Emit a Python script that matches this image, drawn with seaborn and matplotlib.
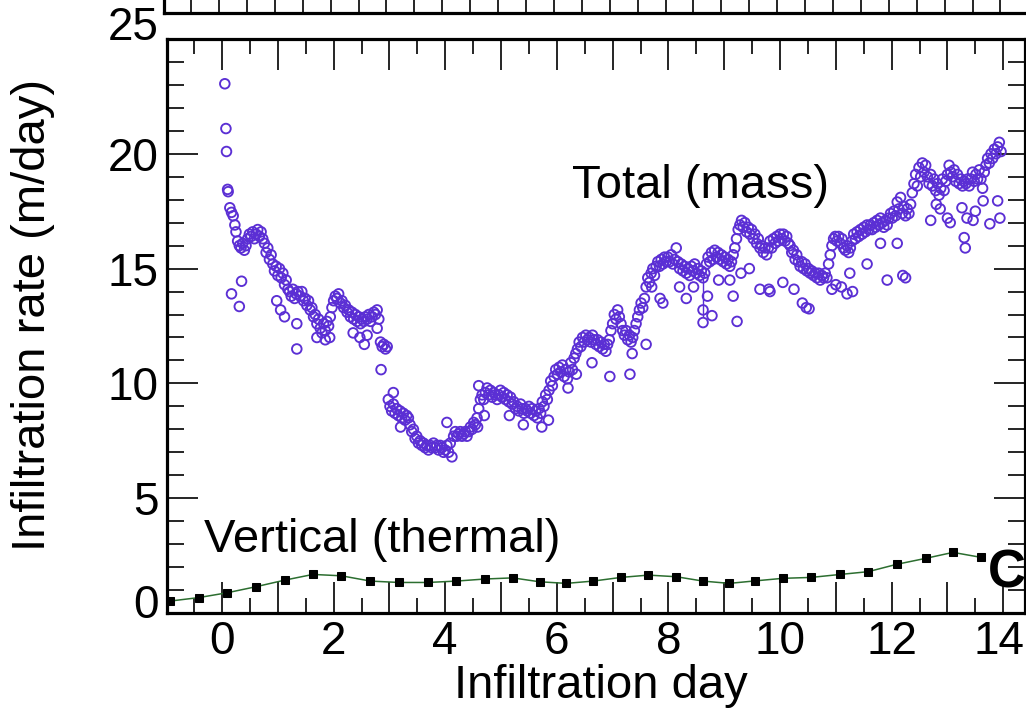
import matplotlib
matplotlib.use("Agg")
import matplotlib.pyplot as plt
from matplotlib.ticker import MultipleLocator, FuncFormatter
from matplotlib.transforms import ScaledTranslation
import seaborn as sns
import pandas as pd

# Total infiltration rate from the mass balance (m/day), main band
total_day = [
    0.05, 0.07, 0.08, 0.10, 0.11, 0.14, 0.17, 0.20, 0.23, 0.25, 0.28, 0.31, 0.34, 0.37, 0.40, 0.43, 0.46,
    0.49, 0.52, 0.55, 0.58, 0.61, 0.64, 0.67, 0.70, 0.73, 0.76, 0.79, 0.82, 0.85, 0.88, 0.91, 0.94, 0.97,
    1.00, 1.03, 1.06, 1.09, 1.12, 1.15, 1.18, 1.21, 1.24, 1.27, 1.30, 1.33, 1.36, 1.40, 1.43, 1.46, 1.49,
    1.52, 1.55, 1.58, 1.61, 1.64, 1.67, 1.70, 1.73, 1.76, 1.79, 1.82, 1.85, 1.88, 1.91, 1.94, 1.97,
    2.00, 2.03, 2.06, 2.09, 2.12, 2.15, 2.18, 2.21, 2.24, 2.27, 2.30, 2.33, 2.36, 2.39, 2.42, 2.45, 2.48,
    2.51, 2.54, 2.57, 2.60, 2.63, 2.66, 2.69, 2.72, 2.75, 2.78, 2.81, 2.84, 2.87, 2.90, 2.93, 2.96,
    2.98, 3.01, 3.04, 3.07, 3.10, 3.13, 3.16, 3.19, 3.22, 3.25, 3.28, 3.31, 3.34, 3.37, 3.40, 3.43, 3.46,
    3.49, 3.52, 3.55, 3.58, 3.61, 3.64, 3.67, 3.70, 3.73, 3.76, 3.79, 3.82, 3.85, 3.88, 3.91, 3.94, 3.97,
    4.00, 4.03, 4.06, 4.09, 4.12, 4.15, 4.18, 4.21, 4.24, 4.27, 4.30, 4.33, 4.36, 4.39, 4.42, 4.45, 4.48,
    4.51, 4.54, 4.57, 4.60, 4.63, 4.66, 4.69, 4.72, 4.75, 4.78, 4.81, 4.84, 4.87, 4.90, 4.93, 4.96,
    4.99, 5.02, 5.05, 5.08, 5.11, 5.14, 5.17, 5.20, 5.23, 5.26, 5.29, 5.32, 5.35, 5.38, 5.41, 5.44, 5.47,
    5.50, 5.53, 5.56, 5.59, 5.62, 5.65, 5.68, 5.71, 5.74, 5.77, 5.80, 5.83, 5.86, 5.89, 5.92, 5.95, 5.98,
    6.01, 6.04, 6.07, 6.10, 6.13, 6.16, 6.19, 6.22, 6.25, 6.28, 6.31, 6.34, 6.37, 6.40, 6.43, 6.46, 6.49,
    6.52, 6.55, 6.58, 6.61, 6.64, 6.67, 6.70, 6.73, 6.76, 6.79, 6.82, 6.85, 6.88, 6.91, 6.94, 6.97,
    7.00, 7.03, 7.06, 7.09, 7.12, 7.15, 7.18, 7.21, 7.24, 7.27, 7.30, 7.33, 7.36, 7.39, 7.42, 7.45, 7.48,
    7.51, 7.54, 7.57, 7.60, 7.63, 7.66, 7.69, 7.72, 7.75, 7.78, 7.81, 7.84, 7.87, 7.90, 7.93, 7.96,
    7.99, 8.02, 8.05, 8.08, 8.11, 8.14, 8.17, 8.20, 8.23, 8.26, 8.29, 8.32, 8.35, 8.38, 8.41, 8.44, 8.47,
    8.50, 8.53, 8.56, 8.59, 8.62, 8.65, 8.68, 8.71, 8.74, 8.77, 8.80, 8.83, 8.86, 8.89, 8.92, 8.95,
    8.98, 9.01, 9.04, 9.07, 9.10, 9.13, 9.16, 9.19, 9.22, 9.25, 9.28, 9.31, 9.34, 9.37, 9.40, 9.43, 9.46,
    9.49, 9.52, 9.55, 9.58, 9.61, 9.64, 9.67, 9.70, 9.73, 9.76, 9.79, 9.82, 9.85, 9.88, 9.91, 9.94, 9.97,
    10.00, 10.03, 10.06, 10.09, 10.12, 10.15, 10.18, 10.21, 10.24, 10.27, 10.30, 10.33, 10.36, 10.39,
    10.42, 10.45, 10.48, 10.51, 10.54, 10.57, 10.60, 10.63, 10.66, 10.69, 10.72, 10.75, 10.78, 10.81,
    10.84, 10.87, 10.90, 10.93, 10.96,
    10.99, 11.02, 11.05, 11.08, 11.11, 11.14, 11.17, 11.20, 11.23, 11.26, 11.29, 11.32, 11.35, 11.38,
    11.41, 11.44, 11.47, 11.50, 11.53, 11.56, 11.59, 11.62, 11.65, 11.68, 11.71, 11.74, 11.77, 11.80,
    11.83, 11.86, 11.89, 11.92, 11.95,
    11.98, 12.01, 12.04, 12.07, 12.10, 12.13, 12.16, 12.19, 12.22, 12.25, 12.28, 12.31, 12.34, 12.37,
    12.40, 12.43, 12.46, 12.49, 12.52, 12.55, 12.58, 12.61, 12.64, 12.67, 12.70, 12.73, 12.76, 12.79,
    12.82, 12.85, 12.88, 12.91, 12.94, 12.97,
    13.00, 13.03, 13.06, 13.09, 13.12, 13.15, 13.18, 13.21, 13.24, 13.27, 13.30, 13.33, 13.36, 13.39,
    13.42, 13.45, 13.48, 13.51, 13.54, 13.57, 13.60, 13.63, 13.66, 13.69, 13.72, 13.75, 13.78, 13.81,
    13.84, 13.87, 13.90, 13.93, 13.96,
]
total_rate = [
    23.05, 21.1, 20.1, 18.45, 18.35, 17.65, 17.45, 17.3, 16.9, 16.6, 16.2, 16.0, 15.9, 16.1, 15.8, 16.0, 16.3,
    16.5, 16.4, 16.6, 16.3, 16.5, 16.7, 16.4, 16.6, 16.3, 16.1, 15.7, 15.9, 15.4, 15.6, 15.2, 14.9, 15.1,
    14.7, 15.0, 14.6, 14.8, 14.3, 14.5, 14.1, 14.0, 13.8, 14.1, 13.7, 13.9, 14.0, 13.8, 14.0, 13.6, 13.7,
    13.4, 13.6, 13.2, 13.3, 12.9, 13.0, 12.6, 12.8, 12.4, 12.2, 12.6, 12.3, 12.7, 12.5, 12.9, 13.3,
    13.6, 13.8, 13.7, 13.9, 13.5, 13.6, 13.3, 13.4, 13.1, 13.2, 12.9, 13.1, 12.8, 13.0, 12.7, 12.9, 12.6,
    12.8, 12.7, 12.9, 12.8, 13.0, 12.7, 12.9, 13.1, 13.0, 13.2, 12.8, 11.8, 11.6, 11.7, 11.5, 11.6,
    9.3, 9.0, 8.8, 9.1, 8.7, 8.9, 8.6, 8.8, 8.5, 8.7, 8.4, 8.6, 8.5, 8.2, 7.9, 8.0, 7.6,
    7.7, 7.4, 7.5, 7.3, 7.4, 7.2, 7.3, 7.1, 7.3, 7.2, 7.4, 7.2, 7.3, 7.1, 7.3, 7.2, 7.0,
    7.1, 7.3, 7.0, 7.4, 6.8, 7.7, 7.9, 7.7, 7.8, 7.9, 7.7, 7.8, 7.9, 7.7, 7.9, 8.1, 8.0,
    8.3, 8.2, 8.5, 8.9, 9.3, 9.5, 9.3, 9.6, 9.8, 9.5, 9.7, 9.4, 9.6, 9.5, 9.3, 9.5,
    9.7, 9.4, 9.6, 9.3, 9.5, 9.2, 9.4, 9.1, 9.2, 8.9, 9.0, 8.8, 9.1, 8.9, 8.7, 8.9, 8.8,
    9.0, 8.7, 8.9, 8.6, 8.8, 8.5, 8.9, 8.7, 9.2, 9.0, 9.5, 9.3, 9.7, 10.1, 9.9, 10.3, 10.6,
    10.4, 10.7, 10.5, 10.8, 10.3, 10.6, 10.2, 10.5, 10.9, 10.6, 11.1, 11.3, 11.5, 11.8, 11.6, 12.0, 11.8,
    12.1, 11.9, 12.0, 11.8, 12.1, 11.9, 11.7, 11.9, 11.6, 11.8, 11.5, 11.7, 11.4, 11.7, 11.9, 12.3,
    12.6, 13.0, 12.8, 13.2, 12.9, 12.6, 12.3, 12.1, 12.3, 11.9, 12.1, 11.8, 12.0, 12.3, 12.6, 12.9, 13.2,
    13.5, 13.3, 13.7, 14.2, 14.6, 14.4, 14.8, 15.0, 14.7, 15.1, 15.3, 15.1, 15.4, 15.2, 15.5, 15.3,
    15.5, 15.3, 15.6, 15.2, 15.4, 15.9, 15.3, 15.0, 15.2, 14.9, 15.1, 14.8, 15.0, 14.7, 15.1, 14.9, 15.2,
    14.8, 15.0, 14.7, 14.9, 14.6, 14.8, 15.2, 15.5, 15.3, 15.7, 15.4, 15.8, 15.5, 15.7, 15.4, 15.6,
    15.3, 15.5, 15.2, 15.4, 15.1, 15.3, 15.6, 15.9, 16.3, 16.7, 16.9, 17.1, 16.8, 17.0, 16.6, 16.8, 16.5,
    16.7, 16.3, 16.5, 16.1, 16.3, 15.9, 16.0, 15.7, 15.9, 15.6, 15.9, 16.2, 15.9, 16.3, 16.1, 16.4, 16.2,
    16.5, 16.3, 16.5, 16.2, 16.4, 16.1, 16.0, 15.7, 15.8, 15.4, 15.6, 15.3, 15.1, 15.3,
    15.0, 15.2, 14.9, 15.0, 14.8, 14.9, 14.7, 14.8, 14.6, 14.8, 14.5, 14.7, 14.6, 14.8,
    14.6, 15.2, 15.6, 16.0, 16.3,
    16.4, 16.2, 16.4, 16.1, 16.3, 15.9, 15.8, 16.0, 15.7, 15.9, 16.2, 16.5, 16.3, 16.6,
    16.4, 16.7, 16.5, 16.8, 16.6, 16.9, 16.7, 16.9, 16.7, 17.0, 16.8, 17.1, 16.9, 17.2,
    17.0, 16.8, 17.1, 16.9, 17.2,
    17.4, 17.2, 17.5, 17.3, 17.9, 17.6, 18.1, 17.4, 17.7, 17.3, 17.6, 17.4, 17.8, 18.3,
    18.7, 19.1, 18.6, 19.4, 19.0, 19.6, 19.2, 19.5, 19.0, 18.7, 19.1, 18.6, 18.9, 18.4,
    18.7, 18.2, 18.5, 18.9, 18.4, 18.8,
    19.1, 19.5, 19.2, 19.0, 19.3, 18.8, 19.1, 18.7, 18.9, 18.6, 18.8, 18.7, 18.9, 18.6,
    18.9, 19.2, 18.8, 19.1, 18.9, 19.3, 18.9, 18.5, 19.2, 19.5, 19.8, 19.6, 20.0, 19.8,
    20.2, 20.0, 20.3, 20.5, 20.1,
]

# Scattered readings that fall below the main band
low_day = [
    0.17, 0.31, 0.35, 0.98, 1.05, 1.12, 1.34, 1.34, 1.70, 1.85, 1.93,
    2.35, 2.47, 2.55, 2.60, 2.78, 2.85, 3.07, 3.20, 4.03, 4.58, 4.60, 4.70,
    5.15, 5.40, 5.73, 5.85, 6.20, 6.35, 6.63, 6.95, 7.31, 7.35, 7.60, 7.70, 7.85, 7.90,
    8.20, 8.32, 8.45, 8.62, 8.62, 8.70, 8.78, 8.90, 9.10, 9.16, 9.23, 9.30, 9.45, 9.64, 9.80, 9.82,
    10.05, 10.25, 10.40, 10.47, 10.52, 10.93, 11.00, 11.10, 11.20, 11.25, 11.30, 11.56, 11.80, 11.92,
    12.10, 12.20, 12.25, 12.70, 12.80, 12.87, 13.00, 13.05, 13.26, 13.30, 13.32, 13.35, 13.46,
    13.50, 13.64, 13.76, 13.90, 13.94,
]
low_rate = [
    13.9, 13.35, 14.45, 13.6, 13.2, 12.9, 12.6, 11.5, 12.0, 11.9, 12.0,
    12.2, 12.0, 11.7, 12.1, 12.4, 10.6, 9.6, 8.1, 8.3, 8.1, 9.9, 8.6,
    8.6, 8.2, 8.1, 8.4, 9.8, 10.4, 10.9, 10.3, 10.4, 11.3, 11.7, 14.2, 13.7, 13.5,
    14.2, 13.7, 14.2, 13.2, 12.65, 13.8, 12.95, 14.5, 14.5, 13.8, 12.7, 14.8, 15.0, 14.1, 14.1, 14.0,
    14.4, 14.1, 13.5, 13.3, 13.25, 14.1, 14.3, 14.2, 13.9, 14.8, 14.0, 15.2, 16.1, 14.5,
    16.1, 14.7, 14.6, 17.1, 17.8, 17.6, 17.2, 17.0, 17.65, 16.35, 15.9, 17.2, 17.1,
    17.5, 17.95, 16.95, 17.95, 17.2,
]

# Vertical infiltration rate from the thermal method (m/day)
thermal_day = [
    -0.93, -0.42, 0.09, 0.60, 1.12, 1.63, 2.14, 2.66, 3.17, 3.69, 4.20, 4.71, 5.21, 5.69, 6.17,
    6.65, 7.15, 7.64, 8.14, 8.62, 9.09, 9.56, 10.05, 10.56, 11.08, 11.58, 12.09, 12.61, 13.10, 13.61,
]
thermal_rate = [
    0.52, 0.67, 0.88, 1.14, 1.43, 1.68, 1.62, 1.39, 1.33, 1.33, 1.39, 1.48, 1.53, 1.36, 1.29,
    1.39, 1.55, 1.65, 1.58, 1.39, 1.29, 1.40, 1.51, 1.55, 1.68, 1.80, 2.12, 2.38, 2.64, 2.42,
]

x_ticks = [0, 2, 4, 6, 8, 10, 12, 14]
y_ticks = [0, 5, 10, 15, 20, 25]

PURPLE = "#5b2fd4"
GREEN = "#2c6e30"
FONT = ["Liberation Sans", "DejaVu Sans"]

sns.set_style("ticks")
plt.rcParams["font.family"] = FONT
plt.rcParams["font.size"] = 34
for key in ("text.color", "axes.labelcolor", "xtick.color", "ytick.color", "axes.edgecolor"):
    plt.rcParams[key] = "black"

W, H = 1026, 722
fig = plt.figure(figsize=(W / 100, H / 100), dpi=100)

XMIN, XMAX = -0.986, 14.39

# neighbouring panel above (only its lower edge is in view)
ax_top = fig.add_axes([164 / W, (H - 13) / H, (1030 - 164) / W, 0.3])
ax_top.set_xlim(XMIN, XMAX + 0.14)
ax_top.set_ylim(0, 25)
ax_top.xaxis.set_major_locator(MultipleLocator(1))
ax_top.xaxis.set_minor_locator(MultipleLocator(0.5))
ax_top.tick_params(axis="x", which="both", direction="in", bottom=True, top=False,
                   labelbottom=False, width=1.2, color="black")
ax_top.tick_params(axis="x", which="major", length=13)
ax_top.tick_params(axis="x", which="minor", length=10)
ax_top.tick_params(axis="y", which="both", left=False, labelleft=False)
for s in ax_top.spines.values():
    s.set_linewidth(2.3)

# main panel
ax = fig.add_axes([167 / W, (H - 613) / H, (1025 - 167) / W, (613 - 39) / H])
df_total = pd.DataFrame({"day": total_day + low_day, "rate": total_rate + low_rate})
df_thermal = pd.DataFrame({"day": thermal_day, "rate": thermal_rate})

ax.vlines(8.62, 12.9, 14.6, color=PURPLE, lw=1.0, zorder=2)
sns.scatterplot(data=df_total, x="day", y="rate", ax=ax, marker="o", s=48,
                color=PURPLE, facecolors="none", edgecolor=PURPLE, linewidth=1.35,
                zorder=3, legend=False)
sns.lineplot(data=df_thermal, x="day", y="rate", ax=ax, color=GREEN, lw=1.1,
             marker="s", markersize=5.5, markerfacecolor="black",
             markeredgecolor="black", sort=False, zorder=4, legend=False)

ax.set_xlim(XMIN, XMAX)
ax.set_ylim(0, 25)
ax.xaxis.set_major_locator(MultipleLocator(1))
ax.xaxis.set_minor_locator(MultipleLocator(0.5))
ax.xaxis.set_major_formatter(
    FuncFormatter(lambda v, p: f"{int(round(v))}" if int(round(v)) in x_ticks else ""))
ax.set_yticks(y_ticks)
ax.yaxis.set_minor_locator(MultipleLocator(1))

ax.tick_params(axis="both", which="both", direction="in", top=True, right=True,
               width=1.2, labelsize=33)
ax.tick_params(axis="x", which="major", length=22, pad=5)
ax.tick_params(axis="x", which="minor", length=11)
ax.tick_params(axis="y", which="major", length=22, pad=6)
ax.tick_params(axis="y", which="minor", length=12)
for s in ax.spines.values():
    s.set_linewidth(2.3)

# end labels of the value axis sit a little above their ticks
fig.canvas.draw()
for lab in ax.get_yticklabels():
    txt = lab.get_text()
    if txt == "0":
        lab.set_transform(lab.get_transform() + ScaledTranslation(0, 12 / 100, fig.dpi_scale_trans))
    elif txt == "25":
        lab.set_transform(lab.get_transform() + ScaledTranslation(0, 16 / 100, fig.dpi_scale_trans))
for lab in ax.get_xticklabels():
    if lab.get_text() == "14":
        lab.set_transform(lab.get_transform() + ScaledTranslation(-4 / 100, 0, fig.dpi_scale_trans))

ax.set_xlabel("Infiltration day", fontsize=34)
ax.xaxis.set_label_coords(0.506, -0.088)
ax.set_ylabel("Infiltration rate (m/day)", fontsize=34)
ax.yaxis.set_label_coords(-0.131, 0.519)

ax.text(8.58, 18.6, "Total (mass)", fontsize=34, ha="center", va="center")
ax.text(2.87, 3.2, "Vertical (thermal)", fontsize=34, ha="center", va="center")
ax.text(14.07, 1.7, "C", fontsize=38, fontweight="bold", ha="center", va="center")

fig.savefig("out.png", dpi=100, facecolor="white")
